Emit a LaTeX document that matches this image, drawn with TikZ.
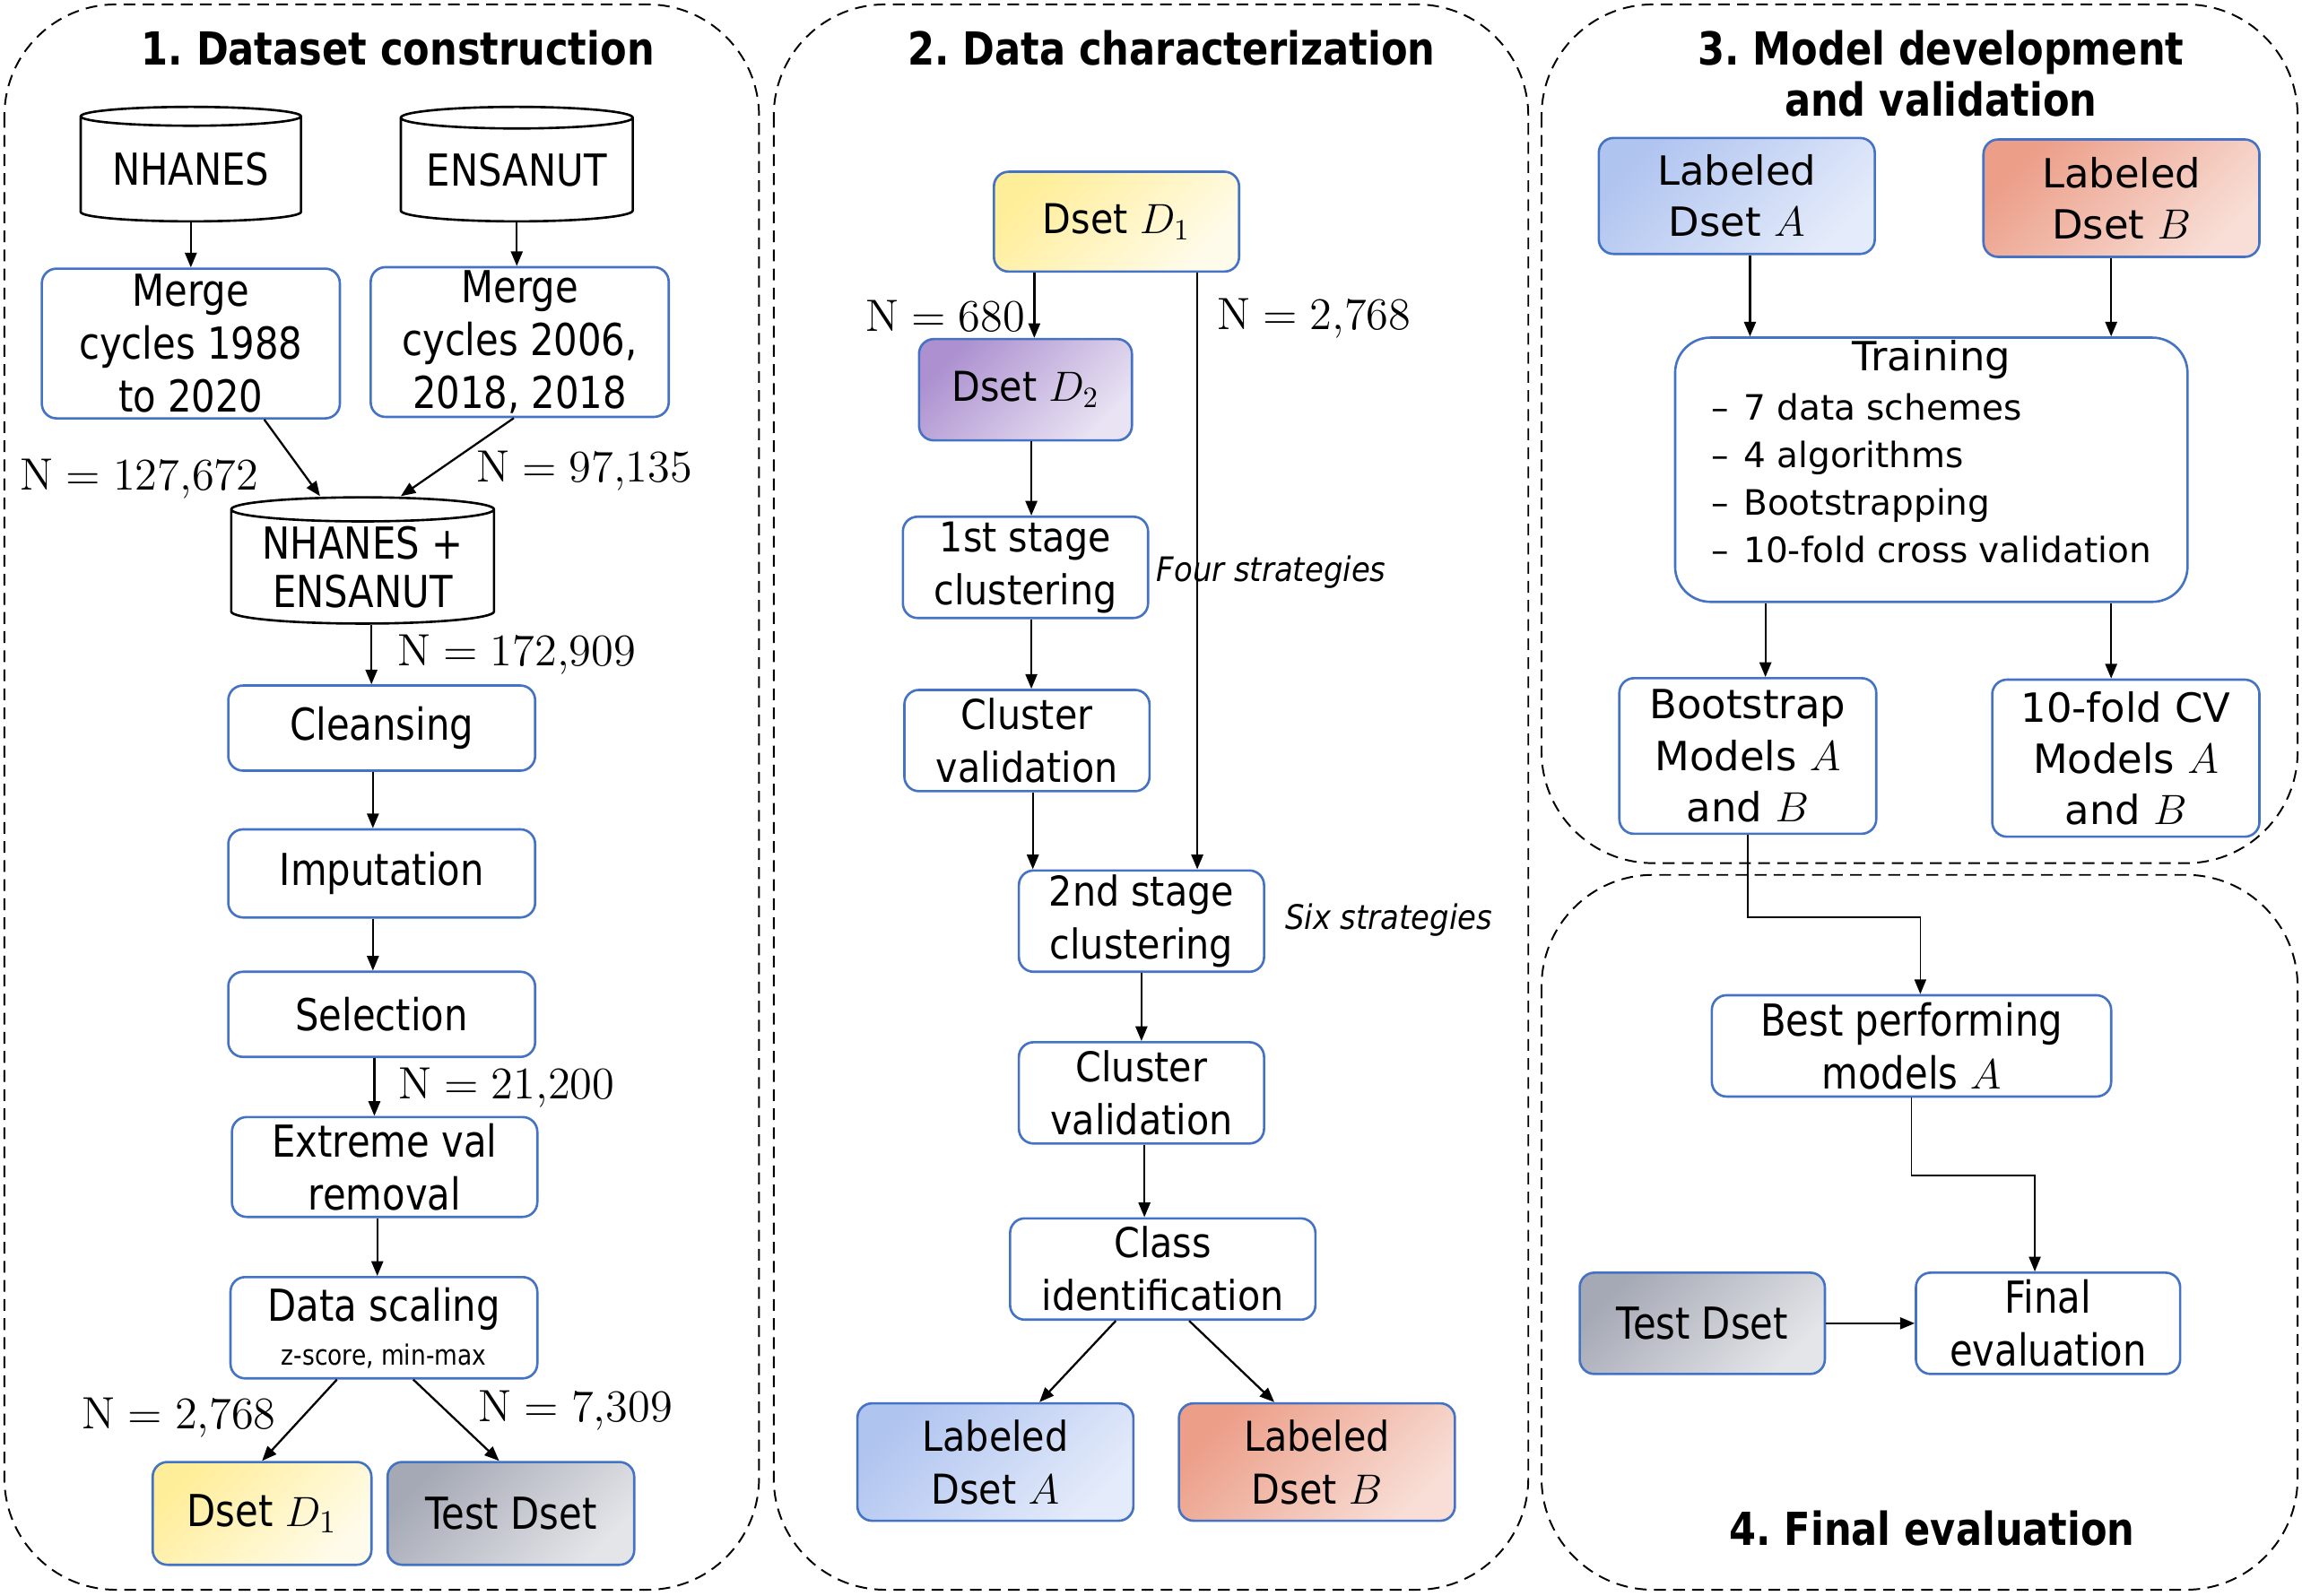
\documentclass[tikz,border=0pt]{standalone}
\usepackage[no-math]{fontspec}
\setmainfont{DejaVu Sans}
\newfontfamily\condfont{DejaVu Sans}[FakeStretch=0.85]
\newfontfamily\midfont{DejaVu Sans}[FakeStretch=0.9]
\usetikzlibrary{shapes.geometric, arrows.meta, positioning}
\frenchspacing

\definecolor{boxblue}{HTML}{4472C4}
\definecolor{ylwA}{HTML}{FFEE99}
\definecolor{ylwB}{HTML}{FFFBEA}
\definecolor{gryA}{HTML}{A5A9B5}
\definecolor{gryB}{HTML}{E4E5E9}
\definecolor{prpA}{HTML}{AC90D0}
\definecolor{prpB}{HTML}{E9E3F3}
\definecolor{bluA}{HTML}{B0C4F0}
\definecolor{bluB}{HTML}{E4EBFA}
\definecolor{slmA}{HTML}{EC9E88}
\definecolor{slmB}{HTML}{F8DED6}

\newcommand{\nval}[1]{\scalebox{1.07}{$\mathrm{N} = #1$}}

\begin{document}
\begin{tikzpicture}[x=0.5pt, y=-0.5pt, >={Triangle[length=5pt,width=4pt]},
  box/.style = {draw=boxblue, line width=0.8pt, rounded corners=5pt, align=center, inner sep=0pt},
  cyl/.style = {draw, line width=0.8pt, cylinder, shape border rotate=90, aspect=0.12, align=center, inner sep=0pt, anchor=north},
  grad/.style 2 args = {top color=#1, bottom color=#2, shading angle=45},
  panel/.style = {draw, line width=0.6pt, dash pattern=on 4pt off 2.5pt, rounded corners=38pt},
  head/.style = {font=\condfont\bfseries\fontsize{15.5}{17.5}\selectfont, align=center, inner sep=0pt},
  num/.style = {font=\fontsize{14.5}{17}\selectfont, inner sep=0pt},
  note/.style = {font=\midfont\itshape\fontsize{11.5}{14}\selectfont, inner sep=0pt},
  condtxt/.style = {font=\condfont\fontsize{15}{18}\selectfont},
  midtxt/.style = {font=\midfont\fontsize{14}{18}\selectfont},
  widetxt/.style = {font=\fontsize{13.7}{17.5}\selectfont},
  every path/.style = {line width=0.7pt}]

  \useasboundingbox (0,0) rectangle (1568,1087);

  % panels
  \draw[panel] (3,3) rectangle (517,1083);
  \draw[panel] (527,3) rectangle (1041,1083);
  \draw[panel] (1050,3) rectangle (1565,588);
  \draw[panel] (1050,596) rectangle (1565,1083);

  \node[head] (h1) at (271,33) {1. Dataset construction};
  \node[head] (h2) at (798,33) {2. Data characterization};
  \node[head] (h3) at (1322,50) {3. Model development\\and validation};
  \node[head] (h4) at (1316,1041) {4. Final evaluation};

  % 1. dataset construction
  \node[cyl, condtxt, minimum width=75pt, minimum height=39pt] (nh) at (130,72) {NHANES};
  \node[cyl, condtxt, minimum width=79pt, minimum height=39pt] (en) at (352,72) {ENSANUT};
  \node[box, condtxt, minimum width=101.5pt, minimum height=51pt] (m1) at (130,234) {Merge\\cycles 1988\\to 2020};
  \node[box, condtxt, minimum width=101.5pt, minimum height=51pt] (m2) at (354,233) {Merge\\cycles 2006,\\2018, 2018};
  \node[cyl, font=\condfont\fontsize{15}{16.5}\selectfont, minimum width=89.5pt, minimum height=43pt] (all) at (247,338) {NHANES +\\ENSANUT};
  \node[box, condtxt, minimum width=104.5pt, minimum height=29pt] (cl) at (260,496) {Cleansing};
  \node[box, condtxt, minimum width=104.5pt, minimum height=30pt] (im) at (260,595) {Imputation};
  \node[box, condtxt, minimum width=104.5pt, minimum height=29pt] (se) at (260,691) {Selection};
  \node[box, condtxt, minimum width=104pt, minimum height=34pt] (ex) at (262,795) {Extreme val\\removal};
  \node[box, condtxt, minimum width=104.5pt, minimum height=34.5pt] (ds) at (261.5,904.5) {Data scaling\\[-3pt]{\fontsize{9.5}{11}\selectfont z-score, min-max}};
  \node[box, condtxt, grad={ylwA}{ylwB}, minimum width=74.5pt, minimum height=35pt] (d1) at (178.5,1031) {Dset $D_1$};
  \node[box, condtxt, grad={gryA}{gryB}, minimum width=84pt, minimum height=35pt] (td) at (348,1031) {Test Dset};

  \draw[->] (nh.south) -- (nh.south |- m1.north);
  \draw[->] (en.south) -- (en.south |- m2.north);
  \draw[->] ([xshift=25pt]m1.south) -- ([xshift=-14.5pt]all.north);
  \draw[->] ([xshift=-2pt]m2.south) -- ([xshift=13pt]all.north);
  \draw[->] ([xshift=3pt]all.south) -- ([xshift=3pt]all.south |- cl.north);
  \draw[->] ([xshift=-3pt]cl.south) -- ([xshift=-3pt]cl.south |- im.north);
  \draw[->] ([xshift=-3pt]im.south) -- ([xshift=-3pt]im.south |- se.north);
  \draw[->] ([xshift=-2.5pt]se.south) -- ([xshift=-2.5pt]se.south |- ex.north);
  \draw[->] ([xshift=-2.5pt]ex.south) -- ([xshift=-2.5pt]ex.south |- ds.north);
  \draw[->] ([xshift=-16pt]ds.south) -- (d1.north);
  \draw[->] ([xshift=10pt]ds.south) -- ([xshift=-4pt]td.north);

  \node[num] (n1) at (95,326) {\nval{127{,}672}};
  \node[num] (n2) at (398,321) {\nval{97{,}135}};
  \node[num] (n3) at (352,446) {\nval{172{,}909}};
  \node[num] (n4) at (345,741) {\nval{21{,}200}};
  \node[num] (n5) at (122,966) {\nval{2{,}768}};
  \node[num] (n6) at (392,961) {\nval{7{,}309}};

  % 2. data characterization
  \node[box, midtxt, grad={ylwA}{ylwB}, minimum width=83.5pt, minimum height=34pt] (pd1) at (760.5,151) {Dset $D_1$};
  \node[box, midtxt, grad={prpA}{prpB}, minimum width=72.5pt, minimum height=34.5pt] (pd2) at (698.5,265.5) {Dset $D_2$};
  \node[box, midtxt, minimum width=83.5pt, minimum height=34.5pt] (s1) at (698.5,386.5) {1st stage\\clustering};
  \node[box, midtxt, minimum width=83.5pt, minimum height=34.5pt] (cv1) at (699.5,504.5) {Cluster\\validation};
  \node[box, midtxt, minimum width=83.5pt, minimum height=34.5pt] (s2) at (777.5,627.5) {2nd stage\\clustering};
  \node[box, midtxt, minimum width=83.5pt, minimum height=34.5pt] (cv2) at (777.5,744.5) {Cluster\\validation};
  \node[box, midtxt, minimum width=104pt, minimum height=34.5pt] (ci) at (792,864.5) {Class\\identification};
  \node[box, midtxt, grad={bluA}{bluB}, minimum width=94pt, minimum height=40pt] (la) at (678,996) {Labeled\\Dset $A$};
  \node[box, midtxt, grad={slmA}{slmB}, minimum width=94pt, minimum height=40pt] (lb) at (897,996) {Labeled\\Dset $B$};

  \draw[->] ([xshift=-28pt]pd1.south) -- ([xshift=-28pt]pd1.south |- pd2.north);
  \draw[->] ([xshift=27.5pt]pd1.south) -- ([xshift=27.5pt]pd1.south |- s2.north);
  \draw[->] ([xshift=2pt]pd2.south) -- ([xshift=2pt]pd2.south |- s1.north);
  \draw[->] ([xshift=2pt]s1.south) -- ([xshift=2pt]s1.south |- cv1.north);
  \draw[->] ([xshift=2pt]cv1.south) -- ([xshift=2pt]cv1.south |- s2.north);
  \draw[->] (s2.south) -- (s2.south |- cv2.north);
  \draw[->] ([xshift=1pt]cv2.south) -- ([xshift=1pt]cv2.south |- ci.north);
  \draw[->] ([xshift=-16pt]ci.south) -- ([xshift=15pt]la.north);
  \draw[->] ([xshift=9pt]ci.south) -- ([xshift=-14.5pt]lb.north);

  \node[num] (n7) at (644,215) {\nval{680}};
  \node[num] (n8) at (895,217) {\nval{2{,}768}};
  \node[note] (fs) at (866,390) {Four strategies};
  \node[note] (ss) at (946,627) {Six strategies};

  % 3. model development and validation
  \node[box, widetxt, grad={bluA}{bluB}, minimum width=94pt, minimum height=39.5pt] (ma) at (1183,133.5) {Labeled\\Dset $A$};
  \node[box, widetxt, grad={slmA}{slmB}, minimum width=94pt, minimum height=40pt] (mb) at (1445,135) {Labeled\\Dset $B$};
  \node[box, rounded corners=12pt, align=left, font=\fontsize{11.9}{16.25}\selectfont,
        minimum width=174.5pt, minimum height=90pt,
        label={[widetxt, anchor=north, inner sep=0pt, yshift=-1pt]north:Training}] (tr) at (1315.5,320)
        {\rule{0pt}{15pt}\textendash\hspace{5pt}7 data schemes\\\textendash\hspace{5pt}4 algorithms\\\textendash\hspace{5pt}Bootstrapping\\\textendash\hspace{5pt}10-fold cross validation};
  \node[box, widetxt, minimum width=87.5pt, minimum height=53pt] (bs) at (1190.5,515) {Bootstrap\\Models $A$\\and $B$};
  \node[box, widetxt, minimum width=91pt, minimum height=53.5pt] (cvm) at (1448,516.5) {10-fold CV\\Models $A$\\and $B$};

  \draw[->] ([xshift=4.5pt]ma.south) -- ([xshift=4.5pt]ma.south |- tr.north);
  \draw[->] ([xshift=-3.5pt]mb.south) -- ([xshift=-3.5pt]mb.south |- tr.north);
  \draw[->] ([xshift=6pt]bs.north |- tr.south) -- ([xshift=6pt]bs.north);
  \draw[->] ([xshift=-5pt]cvm.north |- tr.south) -- ([xshift=-5pt]cvm.north);

  % 4. final evaluation
  \node[box, condtxt, minimum width=136pt, minimum height=34.5pt] (bp) at (1302,712.5) {Best performing\\models $A$};
  \node[box, condtxt, grad={gryA}{gryB}, minimum width=83.5pt, minimum height=34.5pt] (t4) at (1159.5,901.5) {Test Dset};
  \node[box, condtxt, minimum width=90pt, minimum height=34.5pt] (fe) at (1395,901.5) {Final\\evaluation};

  \draw[->, line width=0.5pt] (bs.south) -- ++(0,56) -| ([xshift=3pt]bp.north);
  \draw[->, line width=0.5pt] (bp.south) -- ++(0,53) -| ([xshift=-4.5pt]fe.north);
  \draw[->] (t4) -- (fe);
\end{tikzpicture}
\end{document}
